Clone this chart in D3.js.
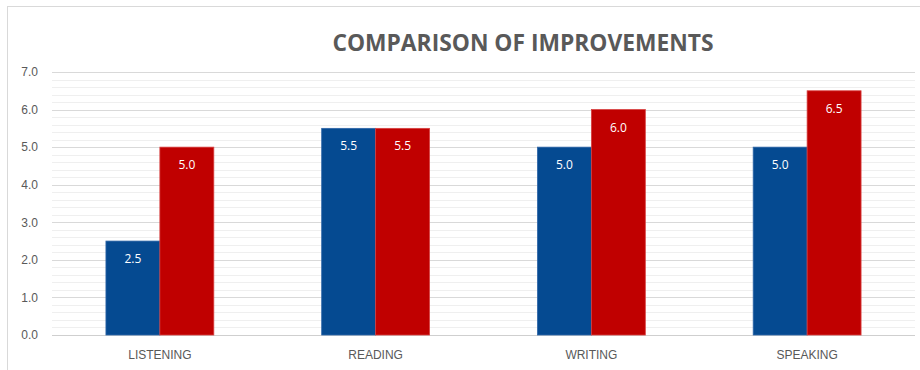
<!DOCTYPE html>
<html><head><meta charset="utf-8">
<script src="https://cdn.jsdelivr.net/npm/d3@7"></script>
<style>
body{margin:0;background:#fff;}
svg{display:block;font-family:"Open Sans","Noto Sans",sans-serif;}
</style></head>
<body><svg id="c" width="920" height="370"></svg>
<script>
const categories = ["LISTENING","READING","WRITING","SPEAKING"];
const seriesBefore = [2.5, 5.5, 5.0, 5.0];
const seriesAfter = [5.0, 5.5, 6.0, 6.5];
const yTicks = [0,1,2,3,4,5,6,7];
const title = "COMPARISON OF IMPROVEMENTS";

const svg = d3.select("#c");
const m = {left:52, right:915, top:72, bottom:335};

// chart border (top and left)
svg.append("line").attr("x1",7).attr("x2",920).attr("y1",6.5).attr("y2",6.5).attr("stroke","#d9d9d9");
svg.append("line").attr("x1",7.5).attr("x2",7.5).attr("y1",6).attr("y2",370).attr("stroke","#d9d9d9");

const y = d3.scaleLinear().domain([0,7]).range([m.bottom, m.top]);
const x0 = d3.scaleBand().domain(categories).range([m.left, m.right]).paddingInner(0.5).paddingOuter(0.25);
const x1 = d3.scaleBand().domain(["before","after"]).range([0, x0.bandwidth()]);

// minor gridlines
const minor = d3.range(0, 7.0001, 0.2);
svg.append("g").selectAll("line").data(minor).join("line")
  .attr("x1",m.left).attr("x2",m.right)
  .attr("y1",d=>Math.round(y(d))+0.5).attr("y2",d=>Math.round(y(d))+0.5)
  .attr("stroke","#efefef");
// major gridlines
svg.append("g").selectAll("line").data(yTicks).join("line")
  .attr("x1",m.left).attr("x2",m.right)
  .attr("y1",d=>Math.round(y(d))+0.5).attr("y2",d=>Math.round(y(d))+0.5)
  .attr("stroke",d=>d===0?"#cfcfcf":"#d9d9d9");

// y axis labels
const yAxis = d3.axisLeft(y).tickValues(yTicks).tickFormat(d3.format(".1f")).tickSize(0).tickPadding(14);
const gy = svg.append("g").attr("transform",`translate(${m.left},0)`).call(yAxis);
gy.select(".domain").remove();
gy.selectAll("text").attr("fill","#595959").style("font-size","12px");

// x axis labels
const xAxis = d3.axisBottom(x0).tickSize(0).tickPadding(15);
const gx = svg.append("g").attr("transform",`translate(0,${m.bottom})`).call(xAxis);
gx.select(".domain").remove();
gx.selectAll("text").attr("fill","#595959").style("font-size","12px");

const data = categories.map((c,i)=>({c, vals:[{k:"before",v:seriesBefore[i]},{k:"after",v:seriesAfter[i]}]}));
const colors = {before:"#054a91", after:"#c00000"};
const strokes = {before:"#2f66a8", after:"#d84040"};

const groups = svg.append("g").selectAll("g").data(data).join("g")
  .attr("transform",d=>`translate(${x0(d.c)},0)`);
groups.selectAll("rect").data(d=>d.vals).join("rect")
  .attr("x",d=>x1(d.k)).attr("width",x1.bandwidth())
  .attr("y",d=>y(d.v)).attr("height",d=>y(0)-y(d.v))
  .attr("fill",d=>colors[d.k]).attr("stroke",d=>strokes[d.k]).attr("stroke-width",0.8);
groups.selectAll("text").data(d=>d.vals).join("text")
  .attr("x",d=>x1(d.k)+x1.bandwidth()/2).attr("y",d=>y(d.v)+22)
  .attr("text-anchor","middle").attr("fill","#fff").style("font-size","12px")
  .text(d=>d3.format(".1f")(d.v));

svg.append("text").attr("x",523).attr("y",51).attr("text-anchor","middle")
  .attr("fill","#595959").style("font-size","22.8px").style("font-weight","bold")
  .text(title);
</script></body></html>
